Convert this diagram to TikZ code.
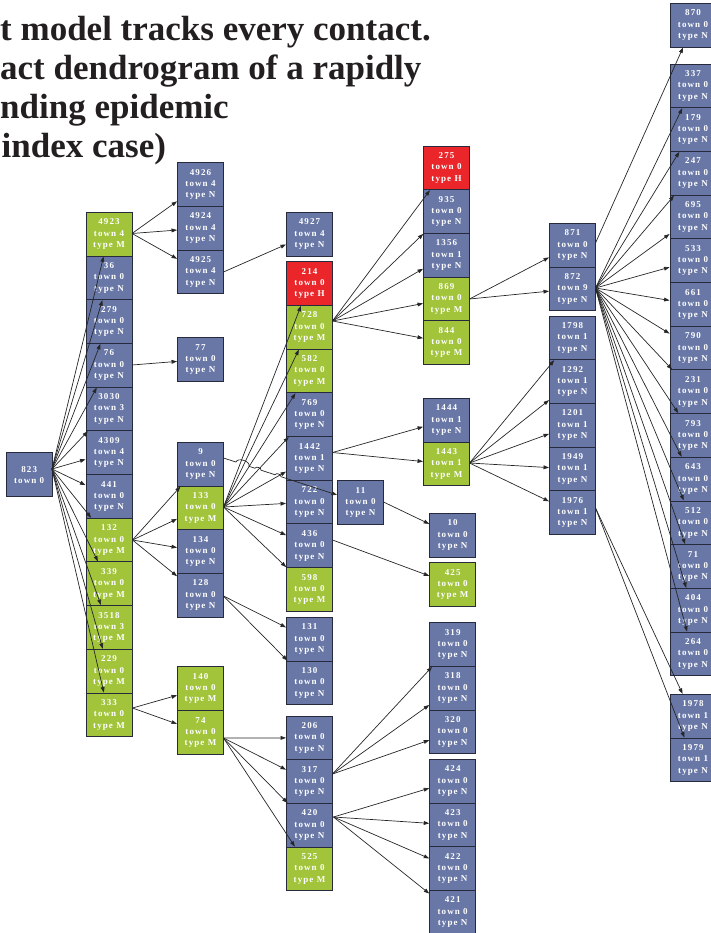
\documentclass[tikz,border=0pt]{standalone}
\usepackage{fontspec}
\setmainfont{Liberation Serif}
\newfontfamily\boxfont[LetterSpace=12]{Liberation Serif}
\usetikzlibrary{arrows.meta}
\definecolor{nblue}{RGB}{104,119,166}
\definecolor{ngreen}{RGB}{161,196,59}
\definecolor{nred}{RGB}{234,38,42}
\definecolor{nborder}{RGB}{38,42,60}
\definecolor{titlec}{RGB}{35,31,32}
\tikzset{
 box/.style={draw=nborder, line width=0.9pt, minimum width=46pt, minimum height=43.7pt, inner sep=0pt, align=center, text=white, font=\boxfont\bfseries\fontsize{9}{11.3}\selectfont},
 edge/.style={draw=black!85, line width=0.7pt, -{Triangle[length=5.5pt,width=3.8pt]}},
 titletext/.style={anchor=base west, inner sep=0pt, font=\bfseries\fontsize{35}{40}\selectfont, text=titlec}
}
\newcommand{\mkbox}[6]{\node[box,fill=#4] (n#1) at (#2+23,#3+21.85) {#1\\town #5\\type #6};}
\begin{document}
\begin{tikzpicture}[x=1pt,y=-1pt]
\useasboundingbox (0,0) rectangle (710,933);
% title
\node[titletext] (t1) at (0,40.5) {t model tracks every contact.};
\node[titletext] (t2) at (0,80) {act dendrogram of a rapidly};
\node[titletext] (t3) at (0,119) {nding epidemic};
\node[titletext] (t4) at (1.5,158) {index case)};
% index node
\node[box,fill=nblue,minimum height=44pt,minimum width=46.5pt] (n823) at (29.2,474.7) {823\\town 0};
% column B
\mkbox{4923}{86}{212.3}{ngreen}{4}{M}
\mkbox{36}{86}{256}{nblue}{0}{N}
\mkbox{279}{86}{299.7}{nblue}{0}{N}
\mkbox{76}{86}{343.4}{nblue}{0}{N}
\mkbox{3030}{86}{387.1}{nblue}{3}{N}
\mkbox{4309}{86}{430.8}{nblue}{4}{N}
\mkbox{441}{86}{474.5}{nblue}{0}{N}
\mkbox{132}{86}{518.2}{ngreen}{0}{M}
\mkbox{339}{86}{561.9}{ngreen}{0}{M}
\mkbox{3518}{86}{605.6}{ngreen}{3}{M}
\mkbox{229}{86}{649.3}{ngreen}{0}{M}
\mkbox{333}{86}{693}{ngreen}{0}{M}
% column C
\mkbox{4926}{177.5}{162.7}{nblue}{4}{N}
\mkbox{4924}{177.5}{206.4}{nblue}{4}{N}
\mkbox{4925}{177.5}{250.1}{nblue}{4}{N}
\mkbox{77}{177.5}{337.7}{nblue}{0}{N}
\mkbox{9}{177.5}{442.3}{nblue}{0}{N}
\mkbox{133}{177.5}{486}{ngreen}{0}{M}
\mkbox{134}{177.5}{529.7}{nblue}{0}{N}
\mkbox{128}{177.5}{573.4}{nblue}{0}{N}
\mkbox{140}{177.5}{666.8}{ngreen}{0}{M}
\mkbox{74}{177.5}{710.5}{ngreen}{0}{M}
% column D
\mkbox{4927}{286.5}{212.3}{nblue}{4}{N}
\mkbox{214}{286.5}{261.7}{nred}{0}{H}
\mkbox{728}{286.5}{305.4}{ngreen}{0}{M}
\mkbox{582}{286.5}{349.1}{ngreen}{0}{M}
\mkbox{769}{286.5}{392.8}{nblue}{0}{N}
\mkbox{1442}{286.5}{436.5}{nblue}{1}{N}
\mkbox{722}{286.5}{480.2}{nblue}{0}{N}
\mkbox{436}{286.5}{523.9}{nblue}{0}{N}
\mkbox{598}{286.5}{567.6}{ngreen}{0}{M}
\mkbox{131}{286.5}{617.3}{nblue}{0}{N}
\mkbox{130}{286.5}{661}{nblue}{0}{N}
\mkbox{206}{286.5}{716}{nblue}{0}{N}
\mkbox{317}{286.5}{759.7}{nblue}{0}{N}
\mkbox{420}{286.5}{803.4}{nblue}{0}{N}
\mkbox{525}{286.5}{847.1}{ngreen}{0}{M}
% column E
\mkbox{11}{337.5}{480.7}{nblue}{0}{N}
% column F
\mkbox{275}{423.5}{146}{nred}{0}{H}
\mkbox{935}{423.5}{189.7}{nblue}{0}{N}
\mkbox{1356}{423.5}{233.4}{nblue}{1}{N}
\mkbox{869}{423.5}{277.1}{ngreen}{0}{M}
\mkbox{844}{423.5}{320.8}{ngreen}{0}{M}
\mkbox{1444}{423.5}{398.3}{nblue}{1}{N}
\mkbox{1443}{423.5}{442}{ngreen}{1}{M}
\mkbox{10}{429.7}{513.3}{nblue}{0}{N}
\mkbox{425}{429.7}{562.7}{ngreen}{0}{M}
\mkbox{319}{429.7}{622.7}{nblue}{0}{N}
\mkbox{318}{429.7}{666.4}{nblue}{0}{N}
\mkbox{320}{429.7}{710.1}{nblue}{0}{N}
\mkbox{424}{429.7}{759.3}{nblue}{0}{N}
\mkbox{423}{429.7}{803}{nblue}{0}{N}
\mkbox{422}{429.7}{846.7}{nblue}{0}{N}
\mkbox{421}{429.7}{890.4}{nblue}{0}{N}
% column G
\mkbox{871}{549.5}{223.3}{nblue}{0}{N}
\mkbox{872}{549.5}{267}{nblue}{9}{N}
\mkbox{1798}{549.5}{316}{nblue}{1}{N}
\mkbox{1292}{549.5}{359.7}{nblue}{1}{N}
\mkbox{1201}{549.5}{403.4}{nblue}{1}{N}
\mkbox{1949}{549.5}{447.1}{nblue}{1}{N}
\mkbox{1976}{549.5}{490.8}{nblue}{1}{N}
% column H
\mkbox{870}{670}{3.3}{nblue}{0}{N}
\mkbox{337}{670}{64}{nblue}{0}{N}
\mkbox{179}{670}{107.7}{nblue}{0}{N}
\mkbox{247}{670}{151.4}{nblue}{0}{N}
\mkbox{695}{670}{195.1}{nblue}{0}{N}
\mkbox{533}{670}{238.8}{nblue}{0}{N}
\mkbox{661}{670}{282.5}{nblue}{0}{N}
\mkbox{790}{670}{326.2}{nblue}{0}{N}
\mkbox{231}{670}{369.9}{nblue}{0}{N}
\mkbox{793}{670}{413.6}{nblue}{0}{N}
\mkbox{643}{670}{457.3}{nblue}{0}{N}
\mkbox{512}{670}{501}{nblue}{0}{N}
\mkbox{71}{670}{544.7}{nblue}{0}{N}
\mkbox{404}{670}{588.4}{nblue}{0}{N}
\mkbox{264}{670}{632.1}{nblue}{0}{N}
\mkbox{1978}{670}{694.3}{nblue}{1}{N}
\mkbox{1979}{670}{738}{nblue}{1}{N}
% ports
\coordinate (p823) at (52,469);
\coordinate (p4923) at (132,233.5);
\coordinate (p4925) at (223.5,272);
\coordinate (p76) at (132,365);
\coordinate (p132) at (132.5,540);
\coordinate (p333) at (132.5,708);
\coordinate (p9) at (223.5,458);
\coordinate (p133) at (223.5,507);
\coordinate (p128) at (223.5,596);
\coordinate (p74) at (223.5,738);
\coordinate (p728) at (332.5,321);
\coordinate (p1442) at (332.5,452.5);
\coordinate (p11) at (383.5,502);
\coordinate (p436) at (332.5,540);
\coordinate (p317) at (332.5,774);
\coordinate (p420) at (333.5,817);
\coordinate (p869) at (469.5,299);
\coordinate (p1443) at (469.5,463);
\coordinate (p871) at (595.5,243);
\coordinate (p872) at (595.5,288);
\coordinate (p1976) at (595.5,508);
% edges
\foreach \t in {4923,36,279,76,3030,4309,441,132,339,3518,229,333} \draw[edge] (p823) -- (n\t);
\foreach \t in {4926,4924,4925} \draw[edge] (p4923) -- (n\t);
\draw[edge] (p4925) -- (n4927);
\draw[edge] (p76) -- (n77);
\foreach \t in {9,133,134,128} \draw[edge] (p132) -- (n\t);
\foreach \t in {140,74} \draw[edge] (p333) -- (n\t);
\foreach \t in {214,728,582,769,1442,722,436,598} \draw[edge] (p133) -- (n\t);
\foreach \t in {131,130} \draw[edge] (p128) -- (n\t);
\foreach \t in {206,317,420,525} \draw[edge] (p74) -- (n\t);
\foreach \t in {275,935,1356,869,844} \draw[edge] (p728) -- (n\t);
\foreach \t in {1444,1443} \draw[edge] (p1442) -- (n\t);
\draw[edge] (p11) -- (n10);
\draw[edge] (p436) -- (n425);
\foreach \t in {319,318,320} \draw[edge] (p317) -- (n\t);
\foreach \t in {424,423,422,421} \draw[edge] (p420) -- (n\t);
\foreach \t in {871,872} \draw[edge] (p869) -- (n\t);
\foreach \t in {1798,1292,1201,1949,1976} \draw[edge] (p1443) -- (n\t);
\draw[edge] (p871) -- (n870);
\foreach \t in {337,179,247,695,533,661,790,231,793,643,512,71,404,264} \draw[edge] (p872) -- (n\t);
\foreach \t in {1978,1979} \draw[edge] (p1976) -- (n\t);
% 9 -> 11 with line hops
\draw[edge] (p9) -- (236,462.06) to[bend left=90] (249,466.3) -- (255,468.24) to[bend left=90] (261,470.19) -- (275,474.74) to[bend left=90] (281,476.69) -- (n11);
\end{tikzpicture}
\end{document}
